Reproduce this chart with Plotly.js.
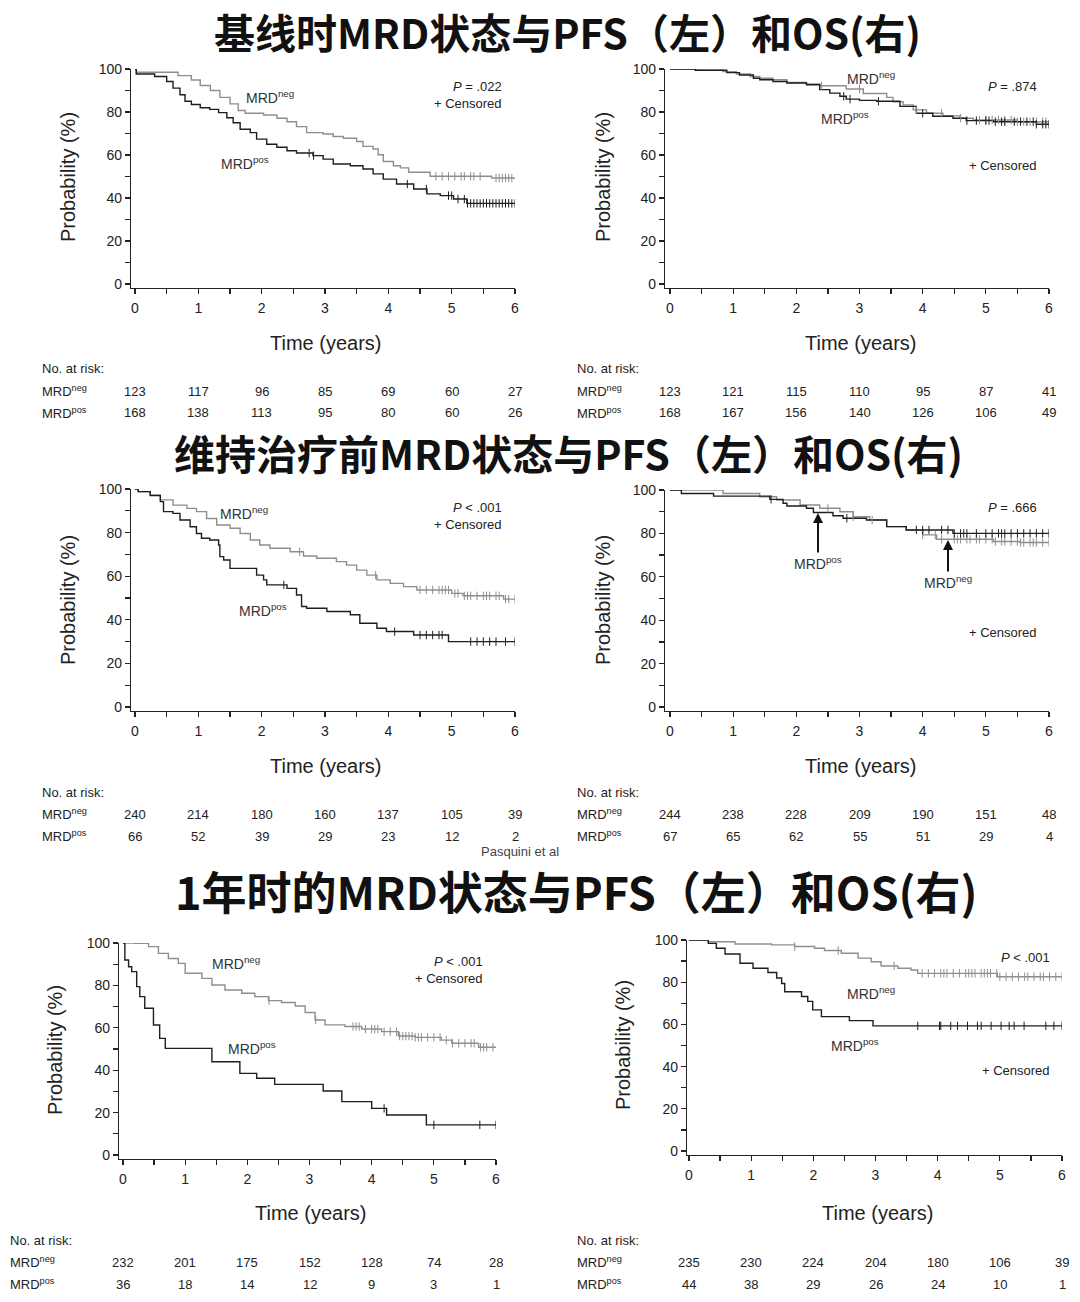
<!DOCTYPE html>
<html>
<head>
<meta charset="utf-8">
<script src="https://cdn.plot.ly/plotly-3.0.1.min.js"></script>
<style>html,body{margin:0;padding:0;background:#fff;}#chart{width:1080px;height:1302px;}</style>
</head>
<body>
<div id="chart"></div>
<script>
// ---------------- DATA ----------------
const timeTicks = [0, 1, 2, 3, 4, 5, 6];
const sectionTitles = [
  "基线时MRD状态与PFS（左）和OS(右)",
  "维持治疗前MRD状态与PFS（左）和OS(右)",
  "1年时的MRD状态与PFS（左）和OS(右)"
];
const pValues = ["<i>P</i> = .022", "<i>P</i> = .874", "<i>P</i> < .001", "<i>P</i> = .666", "<i>P</i> < .001", "<i>P</i> < .001"];

// Panel 1: PFS by MRD at baseline
const p1NegT = [0, 0.02, 0.68, 0.89, 1.03, 1.19, 1.34, 1.5, 1.63, 1.74, 2.03, 2.24, 2.4, 2.55, 2.71, 2.97, 3.13, 3.29, 3.5, 3.6, 3.76, 3.84, 3.92, 4.08, 4.19, 4.32, 4.66, 5.63, 6];
const p1NegS = [100, 98.5, 96.9, 94.9, 92.3, 90, 86.8, 83.8, 80.7, 79.4, 78.6, 77.1, 75.5, 73.2, 70.4, 69.8, 68.6, 67.8, 66.3, 64, 62.8, 60.1, 57, 55, 54, 52, 50.1, 49.3, 49.3];
const p1PosT = [0, 0.02, 0.31, 0.5, 0.6, 0.71, 0.79, 0.89, 1.03, 1.18, 1.32, 1.45, 1.55, 1.66, 1.82, 1.92, 2.08, 2.24, 2.4, 2.55, 2.81, 2.97, 3.13, 3.4, 3.6, 3.76, 3.92, 4.13, 4.4, 4.61, 4.82, 5.03, 5.24, 6];
const p1PosS = [100, 97.7, 96.5, 94.2, 91.1, 88, 85, 83.5, 82, 81.2, 79.7, 77.3, 75, 72, 70.4, 67.4, 65, 63.6, 62, 60.9, 59.7, 58.1, 55.8, 55, 53.5, 51.2, 48.8, 46.5, 44.2, 41.9, 41.1, 39.5, 37.5, 37.5];
const p1NegCens = [4.75, 4.85, 4.95, 5.05, 5.15, 5.2, 5.3, 5.35, 5.45, 5.7, 5.75, 5.8, 5.85, 5.9, 5.95];
const p1PosCens = [2.75, 2.82, 4.3, 4.6, 4.95, 5.0, 5.1, 5.2, 5.25, 5.3, 5.35, 5.4, 5.45, 5.5, 5.55, 5.6, 5.65, 5.7, 5.75, 5.8, 5.85, 5.9, 5.95, 6.0];
const p1RiskNeg = [123, 117, 96, 85, 69, 60, 27];
const p1RiskPos = [168, 138, 113, 95, 80, 60, 26];

// Panel 2: OS by MRD at baseline
const p2NegT = [0, 0.47, 0.84, 1.05, 1.27, 1.42, 1.63, 1.85, 2.16, 2.37, 2.79, 3.06, 3.43, 3.53, 3.69, 3.85, 4.06, 4.32, 4.59, 4.8, 5.5, 6];
const p2NegS = [100, 99.5, 98.8, 97.7, 96.5, 95.7, 95, 93.7, 93.1, 92.2, 90.7, 88.6, 86.8, 84.8, 83.3, 81, 79.4, 78.2, 77.1, 76.3, 75.5, 75.5];
const p2PosT = [0, 0.4, 0.9, 1.1, 1.32, 1.42, 1.63, 1.85, 2.16, 2.37, 2.53, 2.69, 2.79, 3.0, 3.27, 3.64, 3.9, 4.16, 4.48, 4.69, 5.12, 5.8, 6];
const p2PosS = [100, 99.4, 98.3, 97.2, 95.7, 95, 94.2, 93.5, 92.7, 90.4, 88.8, 87.3, 86, 85.4, 85, 82.6, 79.4, 78, 77.1, 76, 75.5, 74.3, 74.3];
const p2NegCens = [2.4, 3.0, 3.9, 4.3, 4.6, 4.9, 5.0, 5.1, 5.2, 5.3, 5.4, 5.5, 5.6, 5.7, 5.8, 5.9, 5.95];
const p2PosCens = [2.75, 2.85, 3.3, 4.0, 4.7, 4.85, 5.0, 5.05, 5.15, 5.25, 5.3, 5.45, 5.55, 5.65, 5.75, 5.8, 5.9, 5.95, 6.0];
const p2RiskNeg = [123, 121, 115, 110, 95, 87, 41];
const p2RiskPos = [168, 167, 156, 140, 126, 106, 49];

// Panel 3: PFS by MRD before maintenance
const p3NegT = [0, 0.05, 0.24, 0.4, 0.6, 0.82, 0.97, 1.13, 1.29, 1.5, 1.66, 1.82, 1.97, 2.13, 2.45, 2.66, 2.87, 3.18, 3.34, 3.5, 3.66, 3.82, 4.03, 4.24, 4.45, 5.0, 5.18, 5.82, 6];
const p3NegS = [100, 98.8, 97.2, 95, 92.6, 91.1, 89.6, 86.5, 83.5, 82, 79.6, 76.6, 74.3, 72.8, 71.2, 69.3, 68.2, 66.7, 65.1, 62.8, 60.5, 58.3, 56.7, 55.2, 53.7, 52.1, 51, 49.5, 49.5];
const p3PosT = [0, 0.05, 0.24, 0.4, 0.45, 0.6, 0.71, 0.87, 0.97, 1.05, 1.18, 1.32, 1.34, 1.4, 1.5, 1.92, 2.03, 2.08, 2.4, 2.55, 2.63, 2.71, 3.03, 3.4, 3.55, 3.82, 3.97, 4.4, 4.95, 6];
const p3PosS = [100, 98.8, 97, 94.2, 89.6, 88.8, 85.8, 82.7, 79.6, 77.4, 76.6, 74.3, 69, 67.4, 63.6, 60.5, 58.3, 56, 54.4, 51.4, 46.1, 45.3, 43.8, 42.3, 38.4, 36.1, 34.6, 33, 30, 30];
const p3NegCens = [2.6, 3.8, 4.5, 4.6, 4.7, 4.8, 4.85, 4.9, 4.95, 5.05, 5.1, 5.2, 5.25, 5.3, 5.4, 5.5, 5.55, 5.6, 5.7, 5.75, 5.85, 5.9, 6.0];
const p3PosCens = [2.35, 4.1, 4.5, 4.6, 4.7, 4.8, 4.85, 5.3, 5.4, 5.5, 5.6, 5.7, 5.85, 6.0];
const p3RiskNeg = [240, 214, 180, 160, 137, 105, 39];
const p3RiskPos = [66, 52, 39, 29, 23, 12, 2];

// Panel 4: OS by MRD before maintenance
const p4NegT = [0, 0.84, 1.42, 1.69, 2.06, 2.37, 2.69, 2.9, 3.16, 3.43, 3.74, 4.0, 4.22, 5.12, 5.54, 6];
const p4NegS = [100, 98.4, 96.9, 95.4, 93.1, 91.6, 90, 87.7, 86.2, 83.1, 81.6, 79.3, 77.3, 76.3, 75.8, 75.8];
const p4PosT = [0, 0.18, 0.69, 1.58, 1.79, 1.85, 2.16, 2.27, 2.58, 2.74, 3.11, 3.43, 3.74, 4.48, 6];
const p4PosS = [100, 98.4, 97.2, 95.7, 93.9, 92.6, 91.6, 89.6, 88.1, 87, 86.2, 83.1, 81.6, 80, 80];
const p4NegCens = [2.5, 2.9, 3.2, 4.0, 4.2, 4.3, 4.5, 4.55, 4.6, 4.7, 4.75, 4.85, 4.9, 5.0, 5.1, 5.15, 5.25, 5.3, 5.4, 5.5, 5.55, 5.6, 5.7, 5.75, 5.8, 5.9, 6.0];
const p4PosCens = [1.6, 2.8, 3.9, 4.0, 4.1, 4.3, 4.4, 4.5, 4.6, 4.65, 4.7, 4.85, 5.0, 5.1, 5.2, 5.25, 5.3, 5.4, 5.5, 5.6, 5.7, 5.8, 5.9, 6.0];
const p4RiskNeg = [244, 238, 228, 209, 190, 151, 48];
const p4RiskPos = [67, 65, 62, 55, 51, 29, 4];

// Panel 5: PFS by MRD at 1 year
const p5NegT = [0, 0.19, 0.41, 0.57, 0.73, 0.89, 1.0, 1.27, 1.43, 1.64, 1.91, 2.12, 2.34, 2.55, 2.77, 2.93, 3.09, 3.25, 3.57, 3.84, 4.16, 4.43, 4.7, 5.12, 5.29, 5.72, 6];
const p5NegS = [100, 99.8, 98.3, 95.1, 92.7, 90.4, 85.7, 83.3, 80.2, 77.8, 76.3, 74.7, 72.8, 71.9, 70.3, 67.2, 63.7, 61.4, 60.6, 59.4, 58.2, 56.1, 55.5, 54.2, 52.7, 50.8, 50.8];
const p5PosT = [0, 0.03, 0.09, 0.14, 0.22, 0.27, 0.35, 0.49, 0.59, 0.68, 1.43, 1.88, 2.15, 2.44, 3.22, 3.52, 4.0, 4.24, 4.88, 6];
const p5PosS = [100, 92, 88.8, 86.5, 79.4, 74.7, 69.2, 61.3, 55, 50.3, 44, 38.5, 36.2, 33.3, 30.2, 25.2, 22, 18.9, 14.2, 14.2];
const p5NegCens = [2.35, 3.1, 3.7, 3.75, 3.8, 3.9, 4.0, 4.05, 4.1, 4.2, 4.3, 4.4, 4.45, 4.5, 4.55, 4.6, 4.65, 4.7, 4.75, 4.8, 4.9, 5.0, 5.1, 5.2, 5.3, 5.4, 5.5, 5.6, 5.65, 5.75, 5.8, 5.85, 5.95];
const p5PosCens = [4.2, 5.0, 5.74, 6.0];
const p5RiskNeg = [232, 201, 175, 152, 128, 74, 28];
const p5RiskPos = [36, 18, 14, 12, 9, 3, 1];

// Panel 6: OS by MRD at 1 year
const p6NegT = [0, 0.31, 0.74, 1.33, 1.7, 2.02, 2.18, 2.45, 2.72, 2.93, 3.09, 3.36, 3.57, 3.68, 4.96, 6];
const p6NegS = [100, 99.2, 98.1, 97.7, 96.9, 96.1, 95, 93.7, 91.4, 89.7, 87.7, 86.6, 85.8, 84.2, 82.6, 82.6];
const p6PosT = [0, 0.31, 0.44, 0.58, 0.82, 1.03, 1.27, 1.41, 1.49, 1.54, 1.81, 1.91, 1.99, 2.13, 2.58, 2.96, 6];
const p6PosS = [100, 98.4, 96.1, 93.4, 89, 86.6, 84.6, 82, 79.4, 75.5, 73.2, 70.9, 66.9, 63.7, 61.8, 59.3, 59.3];
const p6NegCens = [1.7, 2.4, 3.3, 3.75, 3.85, 3.95, 4.05, 4.1, 4.15, 4.25, 4.35, 4.45, 4.5, 4.55, 4.6, 4.7, 4.75, 4.8, 4.85, 4.95, 5.0, 5.1, 5.2, 5.3, 5.4, 5.45, 5.55, 5.65, 5.7, 5.8, 5.9, 6.0];
const p6PosCens = [3.68, 4.03, 4.05, 4.21, 4.32, 4.48, 4.64, 4.7, 4.86, 5.02, 5.15, 5.23, 5.39, 5.74, 5.87, 6.0];
const p6RiskNeg = [235, 230, 224, 204, 180, 106, 39];
const p6RiskPos = [44, 38, 29, 26, 24, 10, 1];

// ---------------- BUILD ----------------
const W = 1080, H = 1302;
const NEG = '#8e8e8e', POS = '#1e1e1e', AX = '#222';
const SANS = 'Liberation Sans, Arial, sans-serif';
const NARROW = 'Liberation Sans Narrow, Arial Narrow, Liberation Sans, sans-serif';

const panels = [
  {negT:p1NegT,negS:p1NegS,posT:p1PosT,posS:p1PosS,negC:p1NegCens,posC:p1PosCens,rn:p1RiskNeg,rp:p1RiskPos,
   g:{L:131,X0:135,X6:515,T:69,B0:284,BA:288}, ytitle:[68,177], xtitle:[325,343], risk:{lx:40,y:[369,391,413]},
   neg:[270,97], pos:[245,163], p:[504,87], cens:[504,103]},
  {negT:p2NegT,negS:p2NegS,posT:p2PosT,posS:p2PosS,negC:p2NegCens,posC:p2PosCens,rn:p2RiskNeg,rp:p2RiskPos,
   g:{L:665,X0:670,X6:1049,T:69,B0:284,BA:288}, ytitle:[603,177], xtitle:[860,343], risk:{lx:575,y:[369,391,413]},
   neg:[871,78], pos:[845,118], p:[1039,87], cens:[1039,166]},
  {negT:p3NegT,negS:p3NegS,posT:p3PosT,posS:p3PosS,negC:p3NegCens,posC:p3PosCens,rn:p3RiskNeg,rp:p3RiskPos,
   g:{L:131,X0:135,X6:515,T:489,B0:707,BA:711}, ytitle:[68,600], xtitle:[325,766], risk:{lx:40,y:[792,814,836]},
   neg:[244,513], pos:[263,610], p:[504,507], cens:[504,524]},
  {negT:p4NegT,negS:p4NegS,posT:p4PosT,posS:p4PosS,negC:p4NegCens,posC:p4PosCens,rn:p4RiskNeg,rp:p4RiskPos,
   g:{L:665,X0:670,X6:1049,T:490,B0:707,BA:711}, ytitle:[603,600], xtitle:[860,766], risk:{lx:575,y:[792,814,836]},
   neg:null, pos:null, p:[1039,507], cens:[1039,633]},
  {negT:p5NegT,negS:p5NegS,posT:p5PosT,posS:p5PosS,negC:p5NegCens,posC:p5PosCens,rn:p5RiskNeg,rp:p5RiskPos,
   g:{L:119,X0:123,X6:496,T:943,B0:1155,BA:1159}, ytitle:[55,1050], xtitle:[310,1213], risk:{lx:8,y:[1240,1262,1284]},
   neg:[236,963], pos:[252,1048], p:[485,961], cens:[485,978]},
  {negT:p6NegT,negS:p6NegS,posT:p6PosT,posS:p6PosS,negC:p6NegCens,posC:p6PosCens,rn:p6RiskNeg,rp:p6RiskPos,
   g:{L:687,X0:689,X6:1062,T:940,B0:1151,BA:1155}, ytitle:[623,1045], xtitle:[877,1213], risk:{lx:575,y:[1240,1262,1284]},
   neg:[871,993], pos:[855,1045], p:[1052,957], cens:[1052,1070]}
];

function stepAt(T, S, t) {
  let v = S[0];
  for (let i = 0; i < T.length; i++) { if (T[i] <= t) v = S[i]; }
  return v;
}
const fx = p => p / W;
const fy = p => 1 - p / H;

const traces = [];
const layout = {
  width: W, height: H, margin: {l:0, r:0, t:0, b:0},
  paper_bgcolor: '#fff', plot_bgcolor: '#fff', showlegend: false,
  font: {family: SANS, color: AX},
  annotations: []
};
const ann = layout.annotations;
function A(x, y, text, o) {
  ann.push(Object.assign({xref:'paper', yref:'paper', x:fx(x), y:fy(y), text:text, showarrow:false,
    xanchor:'center', yanchor:'middle', font:{family:SANS, size:14, color:AX}}, o || {}));
}

panels.forEach((P, k) => {
  const i = k + 1;
  const xa = 'x' + (i === 1 ? '' : i), ya = 'y' + (i === 1 ? '' : i);
  const g = P.g;
  const ppy = (g.X6 - g.X0) / 6;
  const ppp = (g.B0 - g.T) / 100;
  const axCommon = {showline:true, linecolor:AX, linewidth:1.2, ticks:'outside', ticklen:5, tickwidth:1.2,
    tickcolor:AX, showgrid:false, zeroline:false, tickfont:{family:SANS, size:14, color:AX}, fixedrange:true};
  layout['xaxis' + (i === 1 ? '' : i)] = Object.assign({}, axCommon, {
    domain:[fx(g.L), fx(g.X6)], range:[-(g.X0 - g.L) / ppy, 6], anchor:ya,
    tick0:0, dtick:1, ticklabelstandoff:2,
    minor:{dtick:0.5, ticks:'outside', ticklen:5, tickwidth:1.2, tickcolor:AX, showgrid:false}
  });
  layout['yaxis' + (i === 1 ? '' : i)] = Object.assign({}, axCommon, {
    domain:[fy(g.BA), fy(g.T)], range:[-(g.BA - g.B0) / ppp, 100], anchor:xa,
    tick0:0, dtick:20,
    minor:{dtick:10, ticks:'outside', ticklen:5, tickwidth:1.2, tickcolor:AX, showgrid:false}
  });
  // curves
  traces.push({x:P.negT, y:P.negS, xaxis:xa, yaxis:ya, mode:'lines', line:{shape:'hv', color:NEG, width:1.4}, hoverinfo:'skip'});
  traces.push({x:P.posT, y:P.posS, xaxis:xa, yaxis:ya, mode:'lines', line:{shape:'hv', color:POS, width:1.4}, hoverinfo:'skip'});
  // censor marks
  traces.push({x:P.negC, y:P.negC.map(t => stepAt(P.negT, P.negS, t)), xaxis:xa, yaxis:ya, mode:'markers',
    marker:{symbol:'line-ns-open', size:6, color:NEG, line:{color:NEG, width:1}}, hoverinfo:'skip'});
  traces.push({x:P.posC, y:P.posC.map(t => stepAt(P.posT, P.posS, t)), xaxis:xa, yaxis:ya, mode:'markers',
    marker:{symbol:'line-ns-open', size:6, color:POS, line:{color:POS, width:1}}, hoverinfo:'skip'});

  // axis titles
  A(P.ytitle[0], P.ytitle[1], 'Probability (%)', {textangle:-90, font:{family:NARROW, size:20, color:AX}});
  A(P.xtitle[0], P.xtitle[1], 'Time (years)', {font:{family:NARROW, size:20, color:AX}});

  // in-plot labels
  if (P.neg) A(P.neg[0], P.neg[1], 'MRD<sup>neg</sup>', {font:{family:SANS, size:14, color:'#333'}});
  if (P.pos) A(P.pos[0], P.pos[1], 'MRD<sup>pos</sup>', {font:{family:SANS, size:14, color:'#333'}});
  A(P.p[0], P.p[1], pValues[k], {xanchor:'right', font:{family:SANS, size:13, color:AX}});
  A(P.cens[0], P.cens[1], '+ Censored', {xanchor:'right', font:{family:SANS, size:13, color:AX}});

  // risk table
  const r = P.risk;
  A(r.lx, r.y[0], 'No. at risk:', {xanchor:'left', font:{family:SANS, size:13, color:AX}});
  A(r.lx, r.y[1], 'MRD<sup>neg</sup>', {xanchor:'left', font:{family:SANS, size:13, color:AX}});
  A(r.lx, r.y[2], 'MRD<sup>pos</sup>', {xanchor:'left', font:{family:SANS, size:13, color:AX}});
  timeTicks.forEach((t, j) => {
    ann.push({xref:xa, yref:'paper', x:t, y:fy(r.y[1]), text:String(P.rn[j]), showarrow:false,
      xanchor:'center', yanchor:'middle', font:{family:SANS, size:13, color:AX}});
    ann.push({xref:xa, yref:'paper', x:t, y:fy(r.y[2]), text:String(P.rp[j]), showarrow:false,
      xanchor:'center', yanchor:'middle', font:{family:SANS, size:13, color:AX}});
  });
});

// arrows in panel 4
ann.push({xref:'paper', yref:'paper', x:fx(818), y:fy(513), ax:0, ay:50, text:'MRD<sup>pos</sup>', showarrow:true,
  arrowhead:2, arrowsize:1, arrowwidth:2, arrowcolor:'#111', standoff:0, font:{family:SANS, size:14, color:'#333'}});
ann.push({xref:'paper', yref:'paper', x:fx(948), y:fy(540), ax:0, ay:42, text:'MRD<sup>neg</sup>', showarrow:true,
  arrowhead:2, arrowsize:1, arrowwidth:2, arrowcolor:'#111', standoff:0, font:{family:SANS, size:14, color:'#333'}});

// section titles
const titleY = [31, 452, 890];
const titleX = [567, 568, 576];
const titleSize = [41, 41, 45];
sectionTitles.forEach((t, k) => {
  A(titleX[k], titleY[k], '<b>' + t + '</b>', {font:{family:'Noto Sans CJK SC, sans-serif', size:titleSize[k], color:'#111'}});
});
A(520, 851, 'Pasquini et al', {font:{family:NARROW, size:13, color:'#444'}});

Plotly.newPlot('chart', traces, layout, {staticPlot:true, displayModeBar:false});
</script>
</body>
</html>
